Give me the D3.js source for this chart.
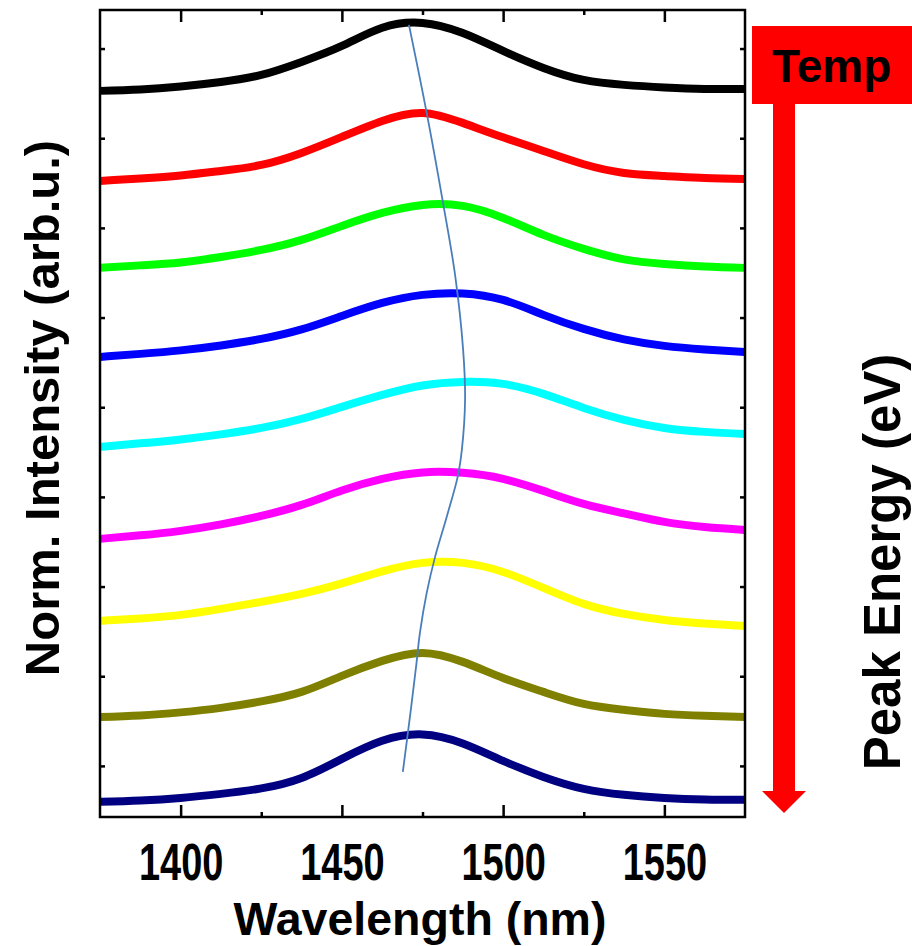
<!DOCTYPE html>
<html>
<head>
<meta charset="utf-8">
<script src="https://cdn.jsdelivr.net/npm/d3@7"></script>
<style>
  html, body { margin: 0; padding: 0; background: #fff; }
  svg { display: block; }
  text { font-family: "Liberation Sans", Arial, sans-serif; font-weight: bold; fill: #000; }
</style>
</head>
<body>
<svg id="chart" width="912" height="946"></svg>
<script>
// ---------- data ----------
const wavelengths = [1375,1387.5,1400,1412.5,1425,1437.5,1450,1462.5,1475,1487.5,1500,1512.5,1525,1537.5,1550,1562.5,1575];

const seriesNames = ["s1","s2","s3","s4","s5","s6","s7","s8","s9"];
const seriesColors = ["#000000","#ff0000","#00ff00","#0000ff","#00ffff","#ff00ff","#ffff00","#808000","#000080"];

const s1 = [7.528,7.544,7.578,7.628,7.706,7.851,8.029,8.232,8.286,8.174,7.974,7.784,7.650,7.595,7.567,7.550,7.550];
const s2 = [6.524,6.552,6.585,6.635,6.702,6.836,7.015,7.193,7.282,7.171,7.010,6.858,6.710,6.613,6.580,6.557,6.546];
const s3 = [5.554,5.582,5.615,5.676,5.754,5.866,6.022,6.167,6.256,6.245,6.111,5.922,5.766,5.649,5.598,5.570,5.554];
const s4 = [4.561,4.595,4.634,4.689,4.762,4.868,5.018,5.163,5.253,5.269,5.197,5.030,4.873,4.756,4.684,4.645,4.617];
const s5 = [3.558,3.597,3.641,3.697,3.769,3.870,4.004,4.137,4.243,4.282,4.260,4.149,3.992,3.859,3.769,3.725,3.702];
const s6 = [2.532,2.571,2.621,2.693,2.788,2.911,3.072,3.201,3.273,3.268,3.201,3.067,2.922,2.816,2.721,2.665,2.632];
const s7 = [1.617,1.645,1.684,1.751,1.829,1.918,2.035,2.169,2.264,2.264,2.163,1.985,1.807,1.695,1.628,1.589,1.561];
const s8 = [0.546,0.563,0.597,0.647,0.719,0.825,1.004,1.171,1.260,1.160,0.981,0.825,0.691,0.625,0.580,0.558,0.546];
const s9 = [-0.401,-0.385,-0.357,-0.312,-0.251,-0.134,0.078,0.280,0.351,0.251,0.056,-0.123,-0.256,-0.323,-0.357,-0.374,-0.379];
const seriesValues = [s1,s2,s3,s4,s5,s6,s7,s8,s9];

// peak-position guide line
const peakWavelength = [1470.8,1476.3,1481.2,1485.1,1487.6,1488.2,1487.2,1485.9,1482.5,1478.9,1476.3,1474.2,1473.0,1471.1,1468.9];
const peakLevel      = [8.264,7.282,6.312,5.476,4.639,4.082,3.524,3.223,2.777,2.331,1.929,1.483,1.104,0.546,-0.067];

const xDomain = [1375, 1575];
const yDomain = [-0.57, 8.43];
const xMajorTicks = [1400, 1450, 1500, 1550];
const xMinorTicks = [1425, 1475, 1525];
const yTicks = [0,1,2,3,4,5,6,7,8];

const xLabel = "Wavelength (nm)";
const yLabel = "Norm. Intensity (arb.u.)";
const y2Label = "Peak Energy (eV)";
const arrowLabel = "Temp";

// ---------- layout ----------
const L = 100, R = 745, T = 10, B = 817;
const svg = d3.select("#chart");
const x = d3.scaleLinear().domain(xDomain).range([L, R]);
const y = d3.scaleLinear().domain(yDomain).range([B, T]);

svg.append("defs").append("clipPath").attr("id","plotclip")
  .append("rect").attr("x", L).attr("y", T).attr("width", R-L).attr("height", B-T);

// curves
const line = d3.line()
  .x((d,i) => x(wavelengths[i]))
  .y(d => y(d))
  .curve(d3.curveNatural);

const g = svg.append("g").attr("clip-path","url(#plotclip)");
seriesValues.forEach((vals, k) => {
  g.append("path")
    .attr("d", line(vals))
    .attr("fill","none")
    .attr("stroke", seriesColors[k])
    .attr("stroke-width", 8)
    .attr("stroke-linejoin","round");
});

// peak guide line
const peakLine = d3.line()
  .x((d,i) => x(peakWavelength[i]))
  .y((d,i) => y(peakLevel[i]))
  .curve(d3.curveCatmullRom.alpha(0.5));
g.append("path")
  .attr("d", peakLine(peakWavelength))
  .attr("fill","none")
  .attr("stroke","#4a7ebb")
  .attr("stroke-width",1.8);

// axes
function styleAxis(sel) {
  sel.select(".domain").remove();
  sel.selectAll("line").attr("stroke","#000").attr("stroke-width",2.5);
}
const axB = svg.append("g").attr("transform",`translate(0,${B})`)
  .call(d3.axisBottom(x).tickValues(xMajorTicks).tickSize(-12).tickFormat(d3.format("d")));
styleAxis(axB);
axB.selectAll("text")
  .attr("dy", 0).attr("y", 0)
  .attr("transform","translate(0,63) scale(0.73,1)")
  .style("font-size","52px")
  .style("font-family",'"Liberation Sans", Arial, sans-serif')
  .style("font-weight","bold")
  .attr("fill","#000");
const axBm = svg.append("g").attr("transform",`translate(0,${B})`)
  .call(d3.axisBottom(x).tickValues(xMinorTicks).tickSize(-5).tickFormat(""));
styleAxis(axBm);

const axT = svg.append("g").attr("transform",`translate(0,${T})`)
  .call(d3.axisTop(x).tickValues(xMajorTicks).tickSize(-12).tickFormat(""));
styleAxis(axT);
const axTm = svg.append("g").attr("transform",`translate(0,${T})`)
  .call(d3.axisTop(x).tickValues(xMinorTicks).tickSize(-5).tickFormat(""));
styleAxis(axTm);

const axL = svg.append("g").attr("transform",`translate(${L},0)`)
  .call(d3.axisLeft(y).tickValues(yTicks).tickSize(-5).tickFormat(""));
styleAxis(axL);
const axR = svg.append("g").attr("transform",`translate(${R},0)`)
  .call(d3.axisRight(y).tickValues(yTicks).tickSize(-5).tickFormat(""));
styleAxis(axR);

// frame
svg.append("rect").attr("x",L).attr("y",T).attr("width",R-L).attr("height",B-T)
  .attr("fill","none").attr("stroke","#000").attr("stroke-width",2.5);

// axis titles
svg.append("text").attr("x", 420).attr("y", 935).attr("text-anchor","middle")
  .style("font-size","46.5px").text(xLabel);
svg.append("text").attr("transform","translate(59,408) rotate(-90)").attr("text-anchor","middle")
  .style("font-size","49px").text(yLabel);
svg.append("text").attr("transform","translate(900,562) rotate(-90)").attr("text-anchor","middle")
  .style("font-size","51px").text(y2Label);

// Temp arrow
svg.append("rect").attr("x",752).attr("y",26).attr("width",170).attr("height",78).attr("fill","#ff0000");
svg.append("text").attr("x",772).attr("y",82).style("font-size","46px").text(arrowLabel);
svg.append("rect").attr("x",773).attr("y",100).attr("width",22).attr("height",692).attr("fill","#ff0000");
svg.append("path").attr("d","M762,791 L806,791 L784,813 Z").attr("fill","#ff0000");
</script>
</body>
</html>
